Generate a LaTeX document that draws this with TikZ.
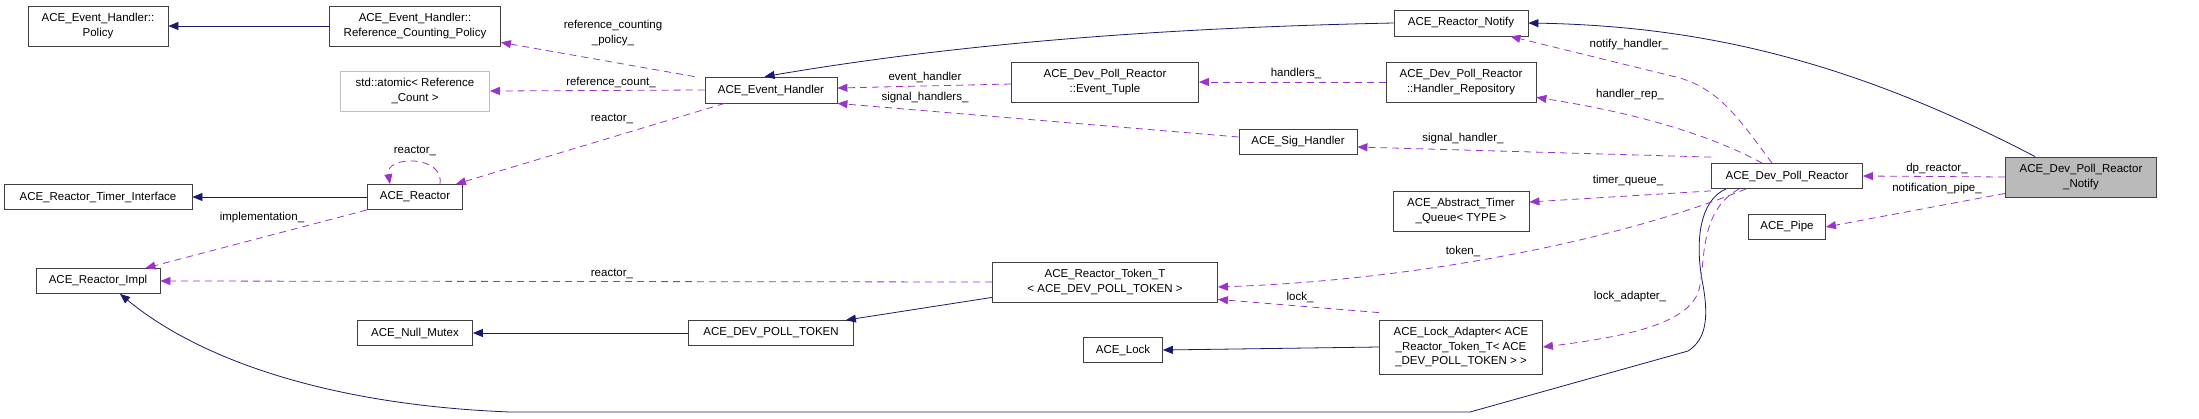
\documentclass[tikz,border=0pt]{standalone}
\usepackage{fontspec}
\setmainfont{Liberation Sans}
\usepackage{tikz}
\usetikzlibrary{arrows.meta}
\definecolor{inhblue}{HTML}{191970}
\definecolor{usepurple}{HTML}{9A32CD}
\tikzset{
  cls/.style={draw=black!75,fill=white,thick,inner sep=0pt,align=center,font=\fontsize{11.5}{14.5}\selectfont,minimum height=25pt},
  ext/.style={cls,draw=black!25},
  base/.style={cls,fill=black!27},
  lbl/.style={inner sep=0pt,align=center,font=\fontsize{11.5}{14.5}\selectfont},
  inh/.style={inhblue,thick,-{Triangle[length=10pt,width=8pt]}},
  use/.style={usepurple,thick,dash pattern=on 7pt off 5pt,-{Triangle[length=10pt,width=8pt]}}
}
\begin{document}
\begin{tikzpicture}[x=1pt,y=-1pt]
\useasboundingbox (0,0) rectangle (2199,418);
% classes
\node[cls,minimum width=140,minimum height=40] (pol) at (98,26) {ACE\_Event\_Handler::\\Policy};
\node[cls,minimum width=171,minimum height=40] (rcp) at (415,26) {ACE\_Event\_Handler::\\Reference\_Counting\_Policy};
\node[ext,minimum width=149,minimum height=40] (atom) at (415,91) {std::atomic< Reference\\\_Count >};
\node[cls,minimum width=188] (tif) at (98,197) {ACE\_Reactor\_Timer\_Interface};
\node[cls,minimum width=95] (rct) at (415,197) {ACE\_Reactor};
\node[cls,minimum width=124] (impl) at (98,281) {ACE\_Reactor\_Impl};
\node[cls,minimum width=115] (nmx) at (415,333) {ACE\_Null\_Mutex};
\node[cls,minimum width=132,minimum height=26] (evh) at (771,90) {ACE\_Event\_Handler};
\node[cls,minimum width=187,minimum height=40] (tup) at (1105,82) {ACE\_Dev\_Poll\_Reactor\\::Event\_Tuple};
\node[cls,minimum width=225,minimum height=40] (tok) at (1105,282) {ACE\_Reactor\_Token\_T\\< ACE\_DEV\_POLL\_TOKEN >};
\node[cls,minimum width=165] (dpt) at (771,333) {ACE\_DEV\_POLL\_TOKEN};
\node[cls,minimum width=79] (lck) at (1123,350) {ACE\_Lock};
\node[cls,minimum width=134,minimum height=26] (rnot) at (1461,23) {ACE\_Reactor\_Notify};
\node[cls,minimum width=150,minimum height=40] (rep) at (1461,82) {ACE\_Dev\_Poll\_Reactor\\::Handler\_Repository};
\node[cls,minimum width=118] (sig) at (1298,142) {ACE\_Sig\_Handler};
\node[cls,minimum width=136,minimum height=40] (tq) at (1461,211) {ACE\_Abstract\_Timer\\\_Queue< TYPE >};
\node[cls,minimum width=163,minimum height=54] (lad) at (1461,347) {ACE\_Lock\_Adapter< ACE\\\_Reactor\_Token\_T< ACE\\\_DEV\_POLL\_TOKEN > >};
\node[cls,minimum width=151] (dpr) at (1787,176) {ACE\_Dev\_Poll\_Reactor};
\node[cls,minimum width=77] (pipe) at (1787,227) {ACE\_Pipe};
\node[base,minimum width=151,minimum height=40] (dpn) at (2081,177) {ACE\_Dev\_Poll\_Reactor\\\_Notify};
% inheritance
\draw[inh] (rcp) -- (pol);
\draw[inh] (rnot.west) .. controls (1150,28) and (950,45) .. ([xshift=60pt]evh.north west);
\draw[inh] ([xshift=30pt]dpn.north west) .. controls (1850,60) and (1700,26) .. (rnot.east);
\draw[inh] (rct) -- (tif);
\draw[inh] ([xshift=15pt]dpr.south west) .. controls (1700,200) and (1695,240) .. (1702,280)
  .. controls (1710,320) and (1705,340) .. (1688,351) -- (1470,412) -- (510,412)
  .. controls (330,405) and (200,360) .. ([xshift=22pt]impl.south);
\draw[inh] ([yshift=5pt]tok.south west) -- ([xshift=-8pt]dpt.north east);
\draw[inh] (dpt) -- (nmx);
\draw[inh] (lad.west) -- (lck.east);
% usage
\draw[use] ([xshift=-10pt]evh.north west) -- ([yshift=4pt]rcp.south east);
\draw[use] (evh.west) -- (atom.east);
\draw[use] ([xshift=20pt]evh.south west) -- ([xshift=-7pt]rct.north east);
\draw[use] ([xshift=-23pt]rct.north east) .. controls (445,155) and (385,155) .. ([xshift=-25pt]rct.north);
\draw[use] (rct.south west) -- ([xshift=-15pt]impl.north east);
\draw[use] (tok.west) -- (impl.east);
\draw[use] ([yshift=-2pt]tup.west) -- ([yshift=2pt]evh.east);
\draw[use] (rep.west) -- (tup.east);
\draw[use] ([yshift=5pt]sig.west) -- (evh.south east);
\draw[use] ([xshift=-15pt]dpr.north) .. controls (1740,120) and (1720,90) .. (1680,78) -- ([xshift=-18pt]rnot.south east);
\draw[use] ([xshift=-25pt]dpr.north) .. controls (1720,140) and (1650,115) .. ([yshift=5pt]rep.south east);
\draw[use] ([yshift=6pt]dpr.north west) -- ([yshift=-5pt]sig.east);
\draw[use] ([yshift=-2pt]dpr.south west) -- ([yshift=9pt]tq.east);
\draw[use] ([xshift=35pt]dpr.south west) .. controls (1620,240) and (1420,280) .. ([yshift=-5pt]tok.east);
\draw[use] ([xshift=28pt]dpr.south west) .. controls (1700,210) and (1705,260) .. (1700,285)
  .. controls (1695,320) and (1640,335) .. (lad.east);
\draw[use] ([yshift=7pt]lad.north west) -- ([yshift=3pt]tok.south east);
\draw[use] (dpn.west) -- (dpr.east);
\draw[use] ([yshift=4pt]dpn.south west) -- (pipe.east);
% labels
\node[lbl] (lrcp) at (613,33) {reference\_counting\\\_policy\_};
\node[lbl] (lrc) at (611,82) {reference\_count\_};
\node[lbl] (lrea) at (612,119) {reactor\_};
\node[lbl] (lself) at (415,151) {reactor\_};
\node[lbl] (limpl) at (262,218) {implementation\_};
\node[lbl] (ltokr) at (612,274) {reactor\_};
\node[lbl] (levh) at (925,77) {event\_handler};
\node[lbl] (lsigs) at (925,98) {signal\_handlers\_};
\node[lbl] (lhnd) at (1296,73) {handlers\_};
\node[lbl] (lnot) at (1629,45) {notify\_handler\_};
\node[lbl] (lrep) at (1630,95) {handler\_rep\_};
\node[lbl] (lsig) at (1463,139) {signal\_handler\_};
\node[lbl] (ltq) at (1628,181) {timer\_queue\_};
\node[lbl] (ltok) at (1463,251) {token\_};
\node[lbl] (llad) at (1630,297) {lock\_adapter\_};
\node[lbl] (llock) at (1300,297) {lock\_};
\node[lbl] (ldp) at (1937,169) {dp\_reactor\_};
\node[lbl] (lpipe) at (1937,189) {notification\_pipe\_};
\end{tikzpicture}
\end{document}
